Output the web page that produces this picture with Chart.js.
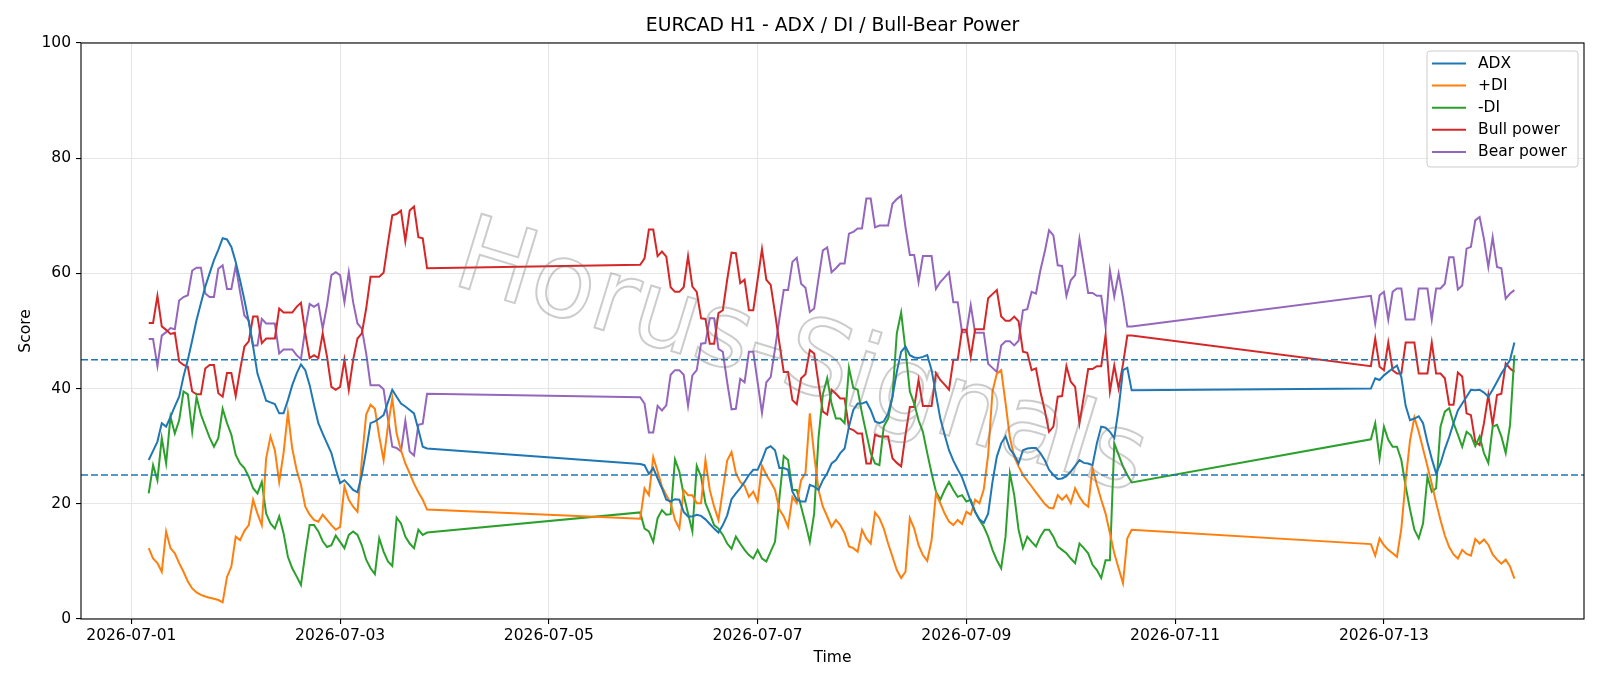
<!DOCTYPE html>
<html lang="en">
<head>
<meta charset="UTF-8">
<title>EURCAD H1 - ADX / DI / Bull-Bear Power</title>
<script src="https://cdn.jsdelivr.net/npm/chart.js@4.4.1/dist/chart.umd.min.js"></script>
<style>
    html, body { margin: 0; padding: 0; background: #ffffff; }
    #wrap { width: 1600px; height: 686px; }
</style>
</head>
<body>
<div id="wrap"><canvas id="chart" width="1600" height="686"></canvas></div>
<script>
    // hourly blocks: first and last hour of each block, counted from 2026-07-01 00:00
    const blocks = [[4, 68], [117, 230], [285, 318]];

    const adx = [
        27.6, 29.2, 30.8, 34.0, 33.4, 35.1, 36.9, 38.6, 42.1, 45.0, 48.4, 51.9, 54.8, 57.7, 60.0, 62.3, 64.1, 66.1, 65.9, 64.6,
        62.0, 58.8, 55.4, 51.6, 47.3, 42.6, 40.3, 37.9, 37.6, 37.3, 35.7, 35.7, 38.0, 40.6, 42.6, 44.2, 43.2, 40.6, 37.2, 34.0,
        32.2, 30.5, 28.8, 26.0, 23.6, 24.1, 23.3, 22.4, 22.0, 25.0, 29.3, 34.0, 34.3, 34.8, 35.4, 37.6, 39.8, 38.6, 37.4, 36.9,
        36.3, 35.7, 32.9, 29.9, 29.6,
        26.9, 26.7, 25.2, 26.2, 24.4, 22.7, 20.7, 20.4, 20.8, 20.7, 18.6, 17.8, 17.8, 18.1, 17.9, 17.3, 16.5, 15.7, 15.0, 16.3,
        18.0, 20.8, 21.8, 22.7, 23.8, 25.0, 25.9, 25.9, 27.6, 29.6, 30.0, 29.3, 26.2, 26.2, 25.9, 22.1, 20.7, 20.4, 20.4, 23.3,
        23.0, 22.4, 24.1, 25.3, 27.0, 27.6, 28.8, 29.6, 33.4, 36.3, 37.4, 37.4, 37.7, 36.3, 34.3, 34.0, 34.3, 35.7, 38.6, 42.9,
        46.4, 47.3, 45.8, 45.4, 45.3, 45.5, 45.8, 43.2, 39.0, 34.8, 32.0, 29.3, 27.5, 26.0, 24.6, 22.5, 20.4, 18.6, 17.3, 16.7,
        18.3, 23.8, 28.2, 30.5, 31.7, 29.5, 28.5, 27.0, 29.3, 29.6, 29.7, 29.7, 28.8, 27.6, 25.9, 25.0, 24.3, 24.4, 24.8, 25.6,
        26.6, 27.6, 27.1, 27.0, 26.7, 30.5, 33.4, 33.2, 32.5, 31.4, 36.5, 43.2, 43.6, 39.7,
        40.0, 41.8, 41.5, 42.3, 42.9, 43.5, 44.0, 42.0, 37.0, 34.5, 34.8, 35.2, 34.0, 30.7, 27.8, 25.3, 27.0, 29.5, 31.6, 34.0,
        36.2, 37.4, 38.6, 39.8, 39.7, 39.8, 39.3, 38.6, 39.8, 41.2, 42.6, 43.8, 45.0, 48.0
    ];

    const plusDI = [
        12.3, 10.5, 9.7, 8.2, 15.2, 12.3, 11.4, 9.7, 8.2, 6.5, 5.3, 4.6, 4.2, 3.9, 3.7, 3.5, 3.3, 2.9, 7.3, 9.1,
        14.3, 13.7, 15.3, 16.3, 20.7, 18.3, 16.3, 27.9, 31.7, 29.3, 23.8, 28.8, 35.8, 29.6, 25.9, 23.3, 19.5, 18.1, 17.2, 16.9,
        18.1, 17.2, 16.3, 15.5, 16.0, 23.0, 20.7, 19.5, 18.6, 27.6, 35.5, 37.2, 36.5, 31.7, 27.6, 33.5, 38.3, 32.2, 29.3, 27.0,
        25.3, 23.5, 22.0, 20.7, 19.0,
        17.4, 22.7, 21.5, 28.1, 25.6, 23.0, 21.5, 20.1, 17.2, 15.7, 22.4, 21.5, 21.5, 20.1, 20.1, 27.6, 22.4, 19.5, 17.2, 22.4,
        27.5, 29.0, 25.3, 23.8, 23.1, 21.2, 22.1, 20.4, 26.6, 25.0, 23.8, 22.4, 19.0, 17.8, 16.0, 21.2, 20.1, 24.1, 25.3, 35.7,
        28.5, 22.4, 19.5, 17.8, 16.0, 17.2, 16.3, 14.9, 12.6, 12.3, 11.7, 15.5, 14.0, 13.1, 18.5, 17.5, 15.7, 13.1, 10.8, 8.5,
        7.1, 8.2, 17.5, 15.7, 12.8, 11.1, 10.1, 13.7, 21.8, 20.1, 18.3, 16.9, 16.3, 17.2, 16.5, 18.6, 18.1, 20.7, 20.1, 22.5,
        28.5, 39.5, 42.6, 43.2, 37.5, 31.5, 28.2, 26.5, 25.0, 24.0, 23.0, 22.0, 21.0, 20.0, 19.3, 19.2, 21.5, 20.7, 21.5, 20.1,
        22.7, 21.2, 20.1, 19.5, 26.2, 23.3, 20.7, 18.3, 14.9, 11.4, 8.8, 6.2, 14.0, 15.5,
        13.0, 11.0, 14.0, 12.8, 12.0, 11.4, 10.8, 15.7, 24.1, 31.0, 35.0, 32.5, 29.5, 26.5, 23.5, 20.2, 17.2, 14.5, 12.5, 11.2,
        10.5, 12.0, 11.3, 11.0, 13.9, 13.1, 13.8, 12.9, 11.2, 10.3, 9.6, 10.3, 9.1, 7.0
    ];

    const minusDI = [
        21.8, 26.7, 24.1, 31.4, 27.0, 35.1, 32.2, 34.5, 39.5, 39.0, 32.5, 38.5, 35.5, 33.5, 31.5, 29.9, 31.4, 36.5, 34.0, 32.0,
        28.5, 27.0, 26.2, 24.7, 22.7, 21.8, 23.8, 18.3, 16.6, 15.7, 17.8, 14.9, 10.8, 8.8, 7.4, 5.9, 11.4, 16.3, 16.3, 15.2,
        13.5, 12.5, 12.8, 14.5, 13.4, 12.3, 14.6, 15.2, 14.6, 12.8, 10.3, 8.8, 7.8, 14.0, 11.7, 10.0, 9.2, 17.6, 16.6, 14.3,
        13.1, 12.3, 15.5, 14.6, 15.0,
        18.5, 15.7, 15.2, 13.4, 17.5, 18.9, 18.1, 18.2, 27.7, 25.6, 21.5, 18.3, 15.2, 26.6, 24.7, 20.1, 18.3, 16.3, 15.7, 14.6,
        13.1, 12.2, 14.3, 13.1, 12.0, 11.1, 10.5, 12.0, 10.5, 10.0, 11.7, 13.4, 21.0, 28.3, 27.6, 22.4, 22.4, 19.5, 16.6, 13.4,
        18.3, 31.5, 39.0, 41.8, 37.4, 34.8, 34.8, 34.0, 43.6, 40.1, 39.8, 35.7, 32.2, 28.8, 27.0, 26.7, 33.4, 34.8, 38.6, 49.6,
        53.2, 46.7, 39.5, 37.4, 34.5, 32.5, 28.8, 25.3, 22.1, 20.7, 22.4, 23.8, 22.4, 21.2, 21.5, 20.4, 20.7, 18.6, 17.2, 16.0,
        14.3, 12.0, 10.2, 8.8, 14.3, 25.3, 21.5, 15.5, 12.3, 14.3, 13.4, 12.6, 14.3, 15.5, 15.5, 14.3, 12.6, 12.0, 11.4, 10.5,
        9.7, 13.1, 12.3, 11.4, 9.4, 8.5, 7.1, 10.2, 10.2, 30.5, 28.5, 26.5, 25.0, 23.7,
        31.2, 34.0, 27.9, 33.4, 31.1, 29.9, 29.9, 27.6, 23.0, 19.0, 15.5, 14.0, 16.6, 24.7, 22.1, 22.7, 33.4, 36.0, 36.6, 34.0,
        32.0, 29.9, 32.5, 31.9, 30.0, 31.7, 28.8, 27.1, 33.4, 33.7, 31.7, 28.8, 33.7, 45.8
    ];

    const bullPower = [
        51.4, 51.4, 56.1, 50.8, 50.2, 49.5, 49.7, 44.7, 44.1, 43.8, 39.5, 39.0, 39.0, 43.5, 44.1, 44.1, 39.2, 38.6, 42.7, 42.7,
        38.7, 43.2, 47.3, 48.2, 52.5, 52.5, 47.9, 48.7, 48.7, 48.7, 53.9, 53.2, 53.2, 53.2, 54.2, 54.9, 49.6, 45.3, 45.8, 45.3,
        49.6, 45.5, 40.3, 39.8, 40.3, 45.0, 39.8, 45.0, 48.7, 49.6, 53.9, 59.4, 59.4, 59.4, 60.1, 65.2, 70.1, 70.3, 70.9, 65.6,
        70.9, 71.6, 66.3, 66.1, 60.9,
        61.5, 62.6, 67.6, 67.6, 63.0, 63.8, 62.9, 57.6, 56.8, 56.8, 57.6, 63.0, 57.7, 56.8, 52.2, 52.1, 47.8, 47.8, 53.1, 53.6,
        58.9, 63.6, 63.5, 58.3, 58.9, 53.6, 53.6, 58.9, 64.2, 58.9, 58.0, 53.1, 47.9, 42.9, 42.9, 38.0, 37.3, 41.8, 42.5, 46.7,
        46.1, 40.9, 36.0, 35.5, 39.8, 39.1, 38.3, 38.3, 33.1, 32.8, 32.2, 32.2, 27.0, 27.0, 32.0, 31.7, 31.7, 31.7, 27.9, 27.1,
        26.5, 32.0, 36.8, 36.8, 41.5, 37.0, 37.0, 37.0, 42.7, 41.5, 40.7, 39.8, 45.0, 45.0, 50.2, 50.2, 45.5, 50.3, 50.3, 50.3,
        55.7, 56.4, 57.1, 52.5, 51.8, 51.8, 52.5, 51.7, 46.4, 46.2, 43.2, 43.5, 39.5, 36.3, 32.5, 33.4, 38.6, 38.7, 43.9, 41.2,
        40.3, 34.0, 38.6, 43.4, 43.4, 43.9, 43.9, 49.3, 39.5, 44.0, 40.0, 44.2, 49.2, 49.2,
        43.9, 48.7, 43.8, 43.2, 48.0, 43.2, 42.6, 42.6, 48.0, 48.0, 48.0, 42.6, 42.6, 42.6, 48.0, 42.6, 42.6, 41.8, 37.2, 37.2,
        42.8, 42.1, 35.7, 35.4, 30.8, 30.2, 34.0, 38.9, 33.7, 38.9, 39.1, 44.4, 43.5, 42.9
    ];

    const bearPower = [
        48.6, 48.6, 43.9, 49.2, 49.8, 50.5, 50.3, 55.3, 55.9, 56.2, 60.5, 61.0, 61.0, 56.5, 55.9, 55.9, 60.8, 61.4, 57.3, 57.3,
        61.3, 56.8, 52.7, 51.8, 47.5, 47.5, 52.1, 51.3, 51.3, 51.3, 46.1, 46.8, 46.8, 46.8, 45.8, 45.1, 50.4, 54.7, 54.2, 54.7,
        50.4, 54.5, 59.7, 60.2, 59.7, 55.0, 60.2, 55.0, 51.3, 50.4, 46.1, 40.6, 40.6, 40.6, 39.9, 34.8, 29.9, 29.7, 29.1, 34.4,
        29.1, 28.4, 33.7, 33.9, 39.1,
        38.5, 37.4, 32.4, 32.4, 37.0, 36.2, 37.1, 42.4, 43.2, 43.2, 42.4, 37.0, 42.3, 43.2, 47.8, 47.9, 52.2, 52.2, 46.9, 46.4,
        41.1, 36.4, 36.5, 41.7, 41.1, 46.4, 46.4, 41.1, 35.8, 41.1, 42.0, 46.9, 52.1, 57.1, 57.1, 62.0, 62.7, 58.2, 57.5, 53.3,
        53.9, 59.1, 64.0, 64.5, 60.2, 60.9, 61.7, 61.7, 66.9, 67.2, 67.8, 67.8, 73.0, 73.0, 68.0, 68.3, 68.3, 68.3, 72.1, 72.9,
        73.5, 68.0, 63.2, 63.2, 58.5, 63.0, 63.0, 63.0, 57.3, 58.5, 59.3, 60.2, 55.0, 55.0, 49.8, 49.8, 54.5, 49.7, 49.7, 49.7,
        44.3, 43.6, 42.9, 47.5, 48.2, 48.2, 47.5, 48.3, 53.6, 53.8, 56.8, 56.5, 60.5, 63.7, 67.5, 66.6, 61.4, 61.3, 56.1, 58.8,
        59.7, 66.0, 61.4, 56.6, 56.6, 56.1, 56.1, 50.7, 60.5, 56.0, 60.0, 55.8, 50.8, 50.8,
        56.1, 51.3, 56.2, 56.8, 52.0, 56.8, 57.4, 57.4, 52.0, 52.0, 52.0, 57.4, 57.4, 57.4, 52.0, 57.4, 57.4, 58.2, 62.8, 62.8,
        57.2, 57.9, 64.3, 64.6, 69.2, 69.8, 66.0, 61.1, 66.3, 61.1, 60.9, 55.6, 56.5, 57.1
    ];

    const tickHours = [0, 48, 96, 144, 192, 240, 288];
    const tickLabels = ['2026-07-01', '2026-07-03', '2026-07-05', '2026-07-07', '2026-07-09', '2026-07-11', '2026-07-13'];
    const refLevels = [25, 45];

    const seriesInfo = [
        { label: 'ADX', values: adx, color: '#1f77b4' },
        { label: '+DI', values: plusDI, color: '#ff7f0e' },
        { label: '-DI', values: minusDI, color: '#2ca02c' },
        { label: 'Bull power', values: bullPower, color: '#d62728' },
        { label: 'Bear power', values: bearPower, color: '#9467bd' }
    ];

    // hour index of every sample
    const hours = [];
    blocks.forEach(([a, b]) => { for (let h = a; h <= b; h++) hours.push(h); });

    Chart.defaults.font.family = '"DejaVu Sans", sans-serif';
    Chart.defaults.color = '#000';

    const FONT = '"DejaVu Sans", sans-serif';

    // matplotlib-like extras: reference lines, watermark, frame, legend, titles
    const decor = {
        id: 'decor',
        afterDatasetsDraw(chart) {
            const { ctx, chartArea: a, scales: { y } } = chart;
            ctx.save();
            ctx.strokeStyle = '#1f77b4';
            ctx.lineWidth = 1.5;
            ctx.setLineDash([7, 3]);
            refLevels.forEach(v => {
                const py = y.getPixelForValue(v);
                ctx.beginPath();
                ctx.moveTo(a.left, py);
                ctx.lineTo(a.right, py);
                ctx.stroke();
            });
            ctx.setLineDash([]);

            ctx.translate(800, 362);
            ctx.rotate(17 * Math.PI / 180);
            ctx.font = '104px ' + FONT;
            ctx.textAlign = 'center';
            ctx.textBaseline = 'middle';
            ctx.strokeStyle = 'rgba(110,110,110,0.35)';
            ctx.lineWidth = 2;
            ctx.strokeText('Horus-Signals', 0, 0);
            ctx.restore();
        },
        afterDraw(chart) {
            const { ctx, chartArea: a } = chart;
            ctx.save();
            // frame
            ctx.strokeStyle = '#000';
            ctx.lineWidth = 1.1;
            ctx.strokeRect(a.left, a.top, a.right - a.left, a.bottom - a.top);

            // titles
            ctx.fillStyle = '#000';
            ctx.textAlign = 'center';
            ctx.textBaseline = 'middle';
            ctx.font = '18.8px ' + FONT;
            ctx.fillText('EURCAD H1 - ADX / DI / Bull-Bear Power', (a.left + a.right) / 2, 26.5);
            ctx.font = '15.5px ' + FONT;
            ctx.fillText('Time', (a.left + a.right) / 2, 658);
            ctx.save();
            ctx.translate(25.5, (a.top + a.bottom) / 2);
            ctx.rotate(-Math.PI / 2);
            ctx.fillText('Score', 0, 0);
            ctx.restore();

            // legend
            const bx = 1427, by = 51, bw = 151, bh = 116;
            ctx.beginPath();
            ctx.roundRect(bx, by, bw, bh, 3);
            ctx.fillStyle = 'rgba(255,255,255,0.8)';
            ctx.fill();
            ctx.strokeStyle = '#cccccc';
            ctx.lineWidth = 1;
            ctx.stroke();
            ctx.textAlign = 'left';
            ctx.font = '15.5px ' + FONT;
            seriesInfo.forEach((s, i) => {
                const ly = 63.5 + i * 22.1;
                ctx.strokeStyle = s.color;
                ctx.lineWidth = 2;
                ctx.beginPath();
                ctx.moveTo(bx + 5, ly);
                ctx.lineTo(bx + 39, ly);
                ctx.stroke();
                ctx.fillStyle = '#000';
                ctx.fillText(s.label, bx + 51, ly);
            });
            ctx.restore();
        }
    };

    const gridStyle = { color: '#e6e6e6', lineWidth: 1.1, tickColor: '#000', tickLength: 5, tickWidth: 1.1 };

    new Chart(document.getElementById('chart'), {
        type: 'line',
        data: {
            datasets: seriesInfo.map(s => ({
                label: s.label,
                data: hours.map((h, i) => ({ x: h, y: s.values[i] })),
                borderColor: s.color,
                borderWidth: 2,
                pointRadius: 0,
                tension: 0,
                fill: false
            }))
        },
        options: {
            responsive: false,
            animation: false,
            devicePixelRatio: 1,
            layout: { padding: { top: 43, right: 16, left: 0, bottom: 0 } },
            plugins: { legend: { display: false }, title: { display: false }, tooltip: { enabled: false } },
            scales: {
                x: {
                    type: 'linear',
                    min: -11.57,
                    max: 334.0,
                    afterFit: s => { s.height = 67; },
                    afterBuildTicks: s => { s.ticks = tickHours.map(v => ({ value: v })); },
                    ticks: {
                        callback: (v, i) => tickLabels[i],
                        font: { size: 15.5 },
                        color: '#000',
                        padding: 3,
                        maxRotation: 0,
                        autoSkip: false
                    },
                    grid: gridStyle,
                    border: { display: false }
                },
                y: {
                    min: 0,
                    max: 100,
                    afterFit: s => { s.width = 81; },
                    ticks: { stepSize: 20, font: { size: 15.5 }, color: '#000', padding: 5 },
                    grid: gridStyle,
                    border: { display: false }
                }
            }
        },
        plugins: [decor]
    });
</script>
</body>
</html>
